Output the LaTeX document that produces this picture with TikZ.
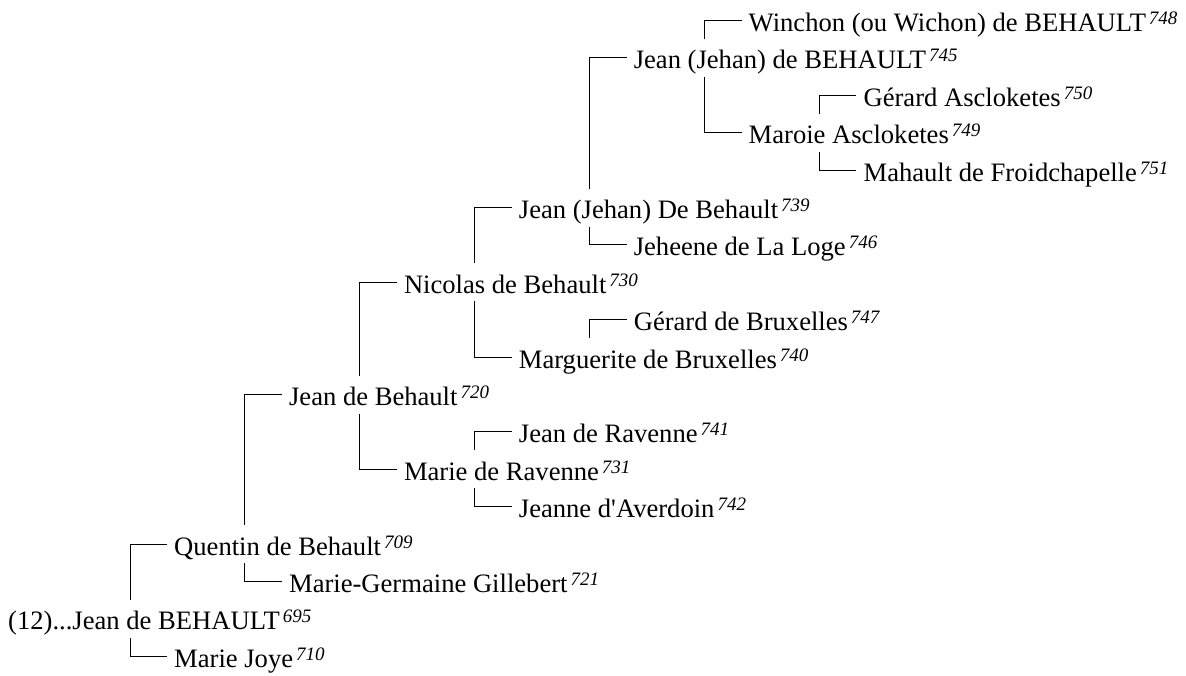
\documentclass[tikz,border=0pt]{standalone}
\usepackage{fontspec}
\setmainfont{Liberation Serif}
\usetikzlibrary{calc}
\newcommand{\anc}[1]{\kern3pt\raisebox{7pt}{\fontsize{19}{19}\selectfont\itshape #1}}
\begin{document}
\begin{tikzpicture}[x=1pt,y=-1pt,
  person/.style={anchor=base west, inner sep=0pt, font=\fontsize{26.6}{30}\selectfont},
  link/.style={draw=black, line width=1pt}]
\useasboundingbox (0,0) rectangle (1186,675);
% rows: baseline = 31.5 + 37.4 i ; gen text x = 174 + 114.9 (g-1)
\node[person] (r0)  at (748.5,31.5)  {Winchon (ou Wichon) de BEHAULT\anc{748}};
\node[person] (r1)  at (633.6,68.9)  {Jean (Jehan) de BEHAULT\anc{745}};
\node[person] (r2)  at (863.4,106.3) {Gérard Ascloketes\anc{750}};
\node[person] (r3)  at (748.5,143.7) {Maroie Ascloketes\anc{749}};
\node[person] (r4)  at (863.4,181.1) {Mahault de Froidchapelle\anc{751}};
\node[person] (r5)  at (518.7,218.5) {Jean (Jehan) De Behault\anc{739}};
\node[person] (r6)  at (633.6,255.9) {Jeheene de La Loge\anc{746}};
\node[person] (r7)  at (403.8,293.3) {Nicolas de Behault\anc{730}};
\node[person] (r8)  at (633.6,330.7) {Gérard de Bruxelles\anc{747}};
\node[person] (r9)  at (518.7,368.1) {Marguerite de Bruxelles\anc{740}};
\node[person] (r10) at (288.9,405.5) {Jean de Behault\anc{720}};
\node[person] (r11) at (518.7,442.9) {Jean de Ravenne\anc{741}};
\node[person] (r12) at (403.8,480.3) {Marie de Ravenne\anc{731}};
\node[person] (r13) at (518.7,517.7) {Jeanne d\textquotesingle Averdoin\anc{742}};
\node[person] (r14) at (174,555.1)   {Quentin de Behault\anc{709}};
\node[person] (r15) at (288.9,592.5) {Marie-Germaine Gillebert\anc{721}};
\node[person] (r16) at (8,629.9)     {(12)...Jean de BEHAULT\anc{695}};
\node[person] (r17) at (174,667.3)   {Marie Joye\anc{710}};
% connectors: child end 7 left of text, 11 above baseline; vertical 44 left of child text
\foreach \p/\c in {16/14,14/10,10/7,7/5,5/1,1/0,3/2,9/8,12/11}{
  \draw[link] ($(r\c.base west)+(-7,-11)$) -- ($(r\c.base west)+(-44,-11)$)
    -- ($(r\c.base west |- r\p.base)+(-44,-30)$);
}
\foreach \p/\c in {16/17,14/15,10/12,7/9,5/6,1/3,3/4,12/13}{
  \draw[link] ($(r\c.base west)+(-7,-11)$) -- ($(r\c.base west)+(-44,-11)$)
    -- ($(r\c.base west |- r\p.base)+(-44,8)$);
}
\end{tikzpicture}
\end{document}
